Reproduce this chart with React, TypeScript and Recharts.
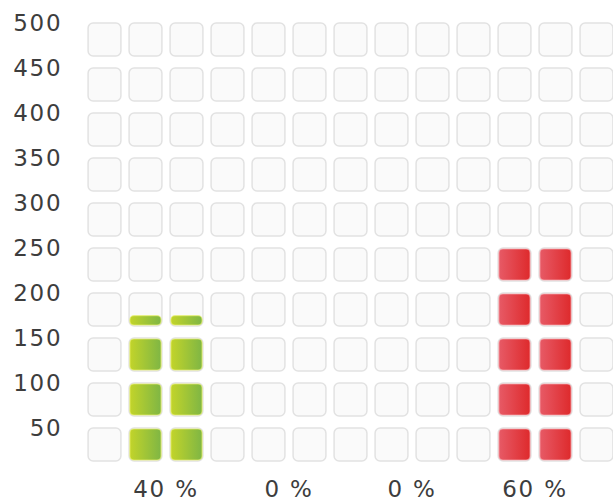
import React from 'react';
import { BarChart, Bar, XAxis, YAxis, usePlotArea } from 'recharts';

// categories, values
const categories = ['40 %', '0 %', '0 %', '60 %'];
const seriesA = [165, 0, 0, 250];
const seriesB = [165, 0, 0, 250];
const categoryColors = ['green', 'green', 'red', 'red'];
const yTicks = [50, 100, 150, 200, 250, 300, 350, 400, 450, 500];

const Y_MAX = 500;
const STEP = 50; // one square = 50 units
const SLOTS = 3; // grid columns per category

const data = categories.map((name, i) => ({ name, a: seriesA[i], b: seriesB[i] }));

const FONT = '"DejaVu Sans", Verdana, sans-serif';
const tickStyle = { fontSize: 23, fill: '#3d3d3d', fontFamily: FONT, letterSpacing: 1.8 };

const edgeColors: Record<string, string> = { green: '#e6f06a', red: '#f7a5ad' };

// background of empty rounded squares, laid out from the plot area
function GridCells() {
  const area = usePlotArea();
  if (!area) return null;
  const pitch = area.width / (categories.length * SLOTS);
  const rowH = (area.height * STEP) / Y_MAX;
  const cellW = pitch * 0.8;
  const cellH = rowH * 0.733;
  const cols = Math.round(area.width / pitch);
  const rows = Y_MAX / STEP;
  const cells = [];
  for (let j = 0; j <= cols; j++) {
    for (let i = 0; i < rows; i++) {
      const cx = area.x + j * pitch;
      const top = area.y + i * rowH;
      cells.push(
        <rect
          key={`${j}-${i}`}
          x={cx - cellW / 2}
          y={top}
          width={cellW}
          height={cellH}
          rx={5}
          fill="#fafafa"
          stroke="#e2e2e2"
          strokeWidth={1.5}
        />
      );
    }
  }
  return <g>{cells}</g>;
}

// a bar drawn as a stack of filled squares, last one partly filled
const SquareStack = (props: any) => {
  const { x, y, width, height, value, index } = props;
  const v = Array.isArray(value) ? value[1] - value[0] : value;
  if (!v || !height) return <g />;
  const color = categoryColors[index] || 'green';
  const bottom = y + height;
  const rowH = (height / v) * STEP;
  const cellW = width * 0.76;
  const cellH = rowH * 0.733 - 2;
  const n = Math.ceil(v / STEP);
  const cells = [];
  for (let i = 0; i < n; i++) {
    const frac = Math.min(1, (v - i * STEP) / STEP);
    const top = bottom - (i + 1) * rowH + 1;
    const h = cellH * frac;
    cells.push(
      <rect
        key={i}
        x={x + (width - cellW) / 2}
        y={top + cellH - h}
        width={cellW}
        height={h}
        rx={Math.min(4, h / 2)}
        fill={`url(#grad-${color})`}
        stroke={edgeColors[color]}
        strokeOpacity={0.7}
        strokeWidth={1.2}
      />
    );
  }
  return <g>{cells}</g>;
};

export default function App() {
  return (
    <div style={{ position: 'absolute', left: 0, top: 0, width: 613, height: 504, overflow: 'hidden', background: '#fff' }}>
      <BarChart
        width={613}
        height={504}
        data={data}
        margin={{ top: 23, right: 16.5, left: 0, bottom: 0 }}
        barCategoryGap="16.667%"
        barGap={0}
      >
        <defs>
          <linearGradient id="grad-green" x1="0" y1="0" x2="1" y2="0">
            <stop offset="0%" stopColor="#c2d42a" />
            <stop offset="100%" stopColor="#7fb644" />
          </linearGradient>
          <linearGradient id="grad-red" x1="0" y1="0" x2="1" y2="0">
            <stop offset="0%" stopColor="#e75a66" />
            <stop offset="100%" stopColor="#de2a2c" />
          </linearGradient>
        </defs>
        <GridCells />
        <XAxis
          dataKey="name"
          axisLine={false}
          tickLine={false}
          interval={0}
          height={31}
          tick={tickStyle}
        />
        <YAxis
          domain={[0, Y_MAX]}
          ticks={yTicks}
          width={104.5}
          axisLine={false}
          tickLine={false}
          tickSize={0}
          tickMargin={42}
          tick={tickStyle}
        />
        <Bar dataKey="a" shape={SquareStack} isAnimationActive={false} />
        <Bar dataKey="b" shape={SquareStack} isAnimationActive={false} />
      </BarChart>
    </div>
  );
}
